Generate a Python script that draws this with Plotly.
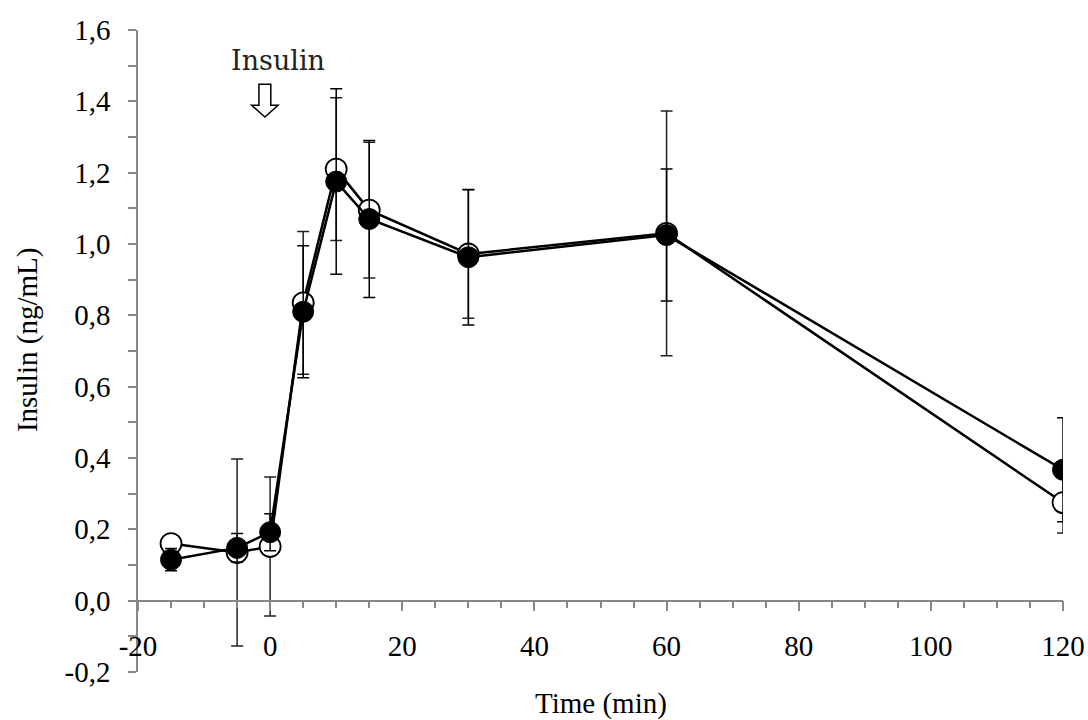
import plotly.graph_objects as go

time_min = [-15, -5, 0, 5, 10, 15, 30, 60, 120]
open_mean = [0.16, 0.135, 0.152, 0.835, 1.21, 1.095, 0.972, 1.03, 0.275]
open_err = [0.022, 0.262, 0.195, 0.2, 0.2, 0.19, 0.18, 0.343, 0.085]
filled_mean = [0.115, 0.148, 0.192, 0.81, 1.175, 1.07, 0.963, 1.025, 0.367]
filled_err = [0.031, 0.04, 0.052, 0.185, 0.26, 0.22, 0.19, 0.185, 0.146]

x_ticks = [-20, 0, 20, 40, 60, 80, 100, 120]
x_ticktext = ["-20", "0", "20", "40", "60", "80", "100", "120"]
y_ticks = [-0.2, 0.0, 0.2, 0.4, 0.6, 0.8, 1.0, 1.2, 1.4, 1.6]
y_ticktext = ["-0,2", "0,0", "0,2", "0,4", "0,6", "0,8", "1,0", "1,2", "1,4", "1,6"]

FONT = "Liberation Serif"

fig = go.Figure()
fig.add_trace(go.Scatter(
    x=time_min, y=open_mean, mode="lines+markers",
    line=dict(color="black", width=2.5),
    marker=dict(size=21, color="white", line=dict(color="black", width=1.8)),
    error_y=dict(type="data", array=open_err, color="#222", thickness=1.5, width=6),
    showlegend=False,
))
fig.add_trace(go.Scatter(
    x=time_min, y=filled_mean, mode="lines+markers",
    line=dict(color="black", width=2.5),
    marker=dict(size=21, color="black", line=dict(color="black", width=1)),
    error_y=dict(type="data", array=filled_err, color="black", thickness=1.5, width=6),
    showlegend=False,
))

# hollow arrow marking insulin injection
fig.add_shape(type="path",
              path="M -1.7 1.448 L 0.1 1.448 L 0.1 1.389 L 1.2 1.389 L -0.8 1.356 "
                   "L -2.8 1.389 L -1.7 1.389 Z",
              xref="x", yref="y", line=dict(color="black", width=1.5),
              fillcolor="white")
fig.add_annotation(x=1.2, y=1.515, xref="x", yref="y", text="Insulin",
                   showarrow=False, font=dict(family="DejaVu Serif", size=27, color="#222"))

fig.add_annotation(x=0.5, y=0, xref="paper", yref="paper", yshift=-31,
                   text="Time (min)", showarrow=False, yanchor="middle",
                   font=dict(family=FONT, size=29, color="black"))
fig.add_annotation(x=0, y=0.517, xref="paper", yref="paper", xshift=-111,
                   text="Insulin (ng/mL)", showarrow=False, textangle=-90,
                   xanchor="center", yanchor="middle",
                   font=dict(family=FONT, size=29, color="black"))

fig.update_layout(
    width=1088, height=720,
    margin=dict(l=138, r=25, t=30, b=48),
    paper_bgcolor="white", plot_bgcolor="white",
    font=dict(family=FONT, size=29, color="black"),
    xaxis=dict(range=[-20, 120], tickvals=x_ticks, ticktext=x_ticktext,
               ticks="outside", ticklen=10, automargin=False,
               tickcolor="#888", tickwidth=1.5, showline=True, linecolor="#888",
               linewidth=1.5, showgrid=False, zeroline=False,
               anchor="free", position=0.2 / 1.8, ticklabelstandoff=10,
               minor=dict(dtick=5, ticks="outside", ticklen=7, tickcolor="#888",
                          tickwidth=1.5, showgrid=False)),
    yaxis=dict(range=[-0.2, 1.6], tickvals=y_ticks, ticktext=y_ticktext,
               ticks="outside", ticklen=8, tickcolor="#888", tickwidth=1.5,
               showline=True, linecolor="#888", linewidth=1.5, showgrid=False,
               zeroline=False, ticklabelstandoff=12, automargin=False,
               minor=dict(dtick=0.1, tick0=0, ticks="outside", ticklen=8,
                          tickcolor="#888", tickwidth=1.5, showgrid=False)),
)

fig.write_html("out.html",
               config={"displayModeBar": False},
               post_script="document.body.style.margin='0';"
                           "document.body.style.overflow='hidden';")
